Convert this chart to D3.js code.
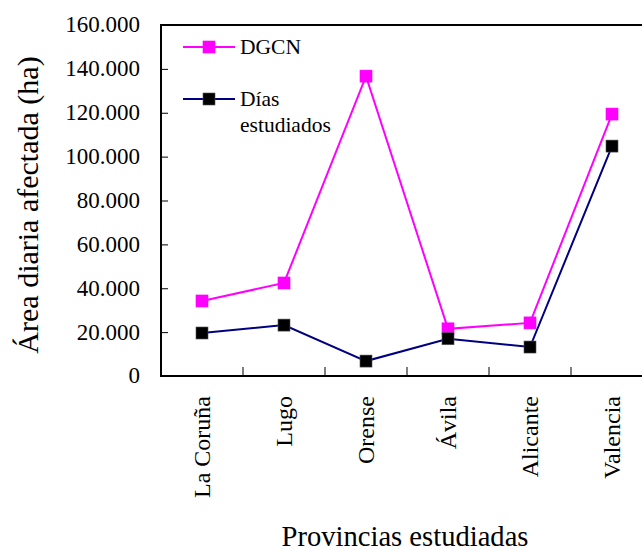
<!DOCTYPE html>
<html>
<head>
<meta charset="utf-8">
<script src="https://cdn.jsdelivr.net/npm/d3@7"></script>
<style>
  body { margin: 0; background: #fff; }
  svg { display: block; font-family: "Liberation Serif", "Times New Roman", serif; }
</style>
</head>
<body>
<div id="chart"></div>
<script>
// datos
const provincias = ['La Coruña', 'Lugo', 'Orense', 'Ávila', 'Alicante', 'Valencia'];
const dgcn = [34.2, 42.4, 136.7, 21.5, 24.2, 119.4];
const diasEstudiados = [19.6, 23.2, 6.8, 17.0, 13.2, 104.8];
const yTicks = [0, 20, 40, 60, 80, 100, 120, 140, 160];

const FONT = '"Liberation Serif", "Times New Roman", serif';
const W = 642, H = 550;
const margin = { top: 25, left: 161 };
const plotW = 492, plotH = 351;

const svg = d3.select('#chart').append('svg').attr('width', W).attr('height', H);
const g = svg.append('g').attr('transform', 'translate(' + margin.left + ',' + margin.top + ')');

const x = d3.scaleBand().domain(provincias).range([0, plotW]);
const y = d3.scaleLinear().domain([0, 160]).range([plotH, 0]);

// formato con punto de miles: 20.000
const fmt = function (d) { return d === 0 ? '0' : d + '.000'; };

// eje Y (marcas hacia dentro)
const yAxis = g.append('g').call(d3.axisLeft(y).tickValues(yTicks).tickSize(-7).tickPadding(21).tickFormat(fmt));
yAxis.attr('font-family', FONT).attr('font-size', 23);
yAxis.select('.domain').remove();
yAxis.selectAll('line').attr('stroke', '#000').attr('stroke-width', 1);
yAxis.selectAll('text')
  .style('font-family', FONT).style('font-size', '23px')
  .attr('fill', '#000').attr('dy', '0.3em');

// eje X: marcas entre categorías, hacia dentro
const xTickPos = d3.range(1, provincias.length).map(function (i) { return i * x.bandwidth(); });
g.selectAll('.xtick').data(xTickPos).enter().append('line')
  .attr('x1', function (d) { return d; }).attr('x2', function (d) { return d; })
  .attr('y1', plotH).attr('y2', plotH - 9)
  .attr('stroke', '#000').attr('stroke-width', 1);

g.selectAll('.xlabel').data(provincias).enter().append('text')
  .attr('transform', function (d) {
    return 'translate(' + (x(d) + x.bandwidth() / 2 + 8) + ',' + (plotH + 20) + ') rotate(-90)';
  })
  .attr('text-anchor', 'end')
  .style('font-size', '24px')
  .text(function (d) { return d; });

// marco: izquierda, abajo, arriba
g.append('path')
  .attr('d', 'M' + plotW + ',0H0V' + plotH + 'H' + plotW)
  .attr('fill', 'none').attr('stroke', '#000').attr('stroke-width', 2);

// series
const series = [
  { name: 'DGCN', values: dgcn, line: '#ff00ff', fill: '#ff00ff', edge: '#ff00ff' },
  { name: 'Días estudiados', values: diasEstudiados, line: '#000080', fill: '#000', edge: '#555' }
];

const line = d3.line()
  .x(function (d, i) { return x(provincias[i]) + x.bandwidth() / 2; })
  .y(function (d) { return y(d); });

const ms = 12;
series.forEach(function (s) {
  g.append('path').datum(s.values)
    .attr('d', line).attr('fill', 'none')
    .attr('stroke', s.line).attr('stroke-width', 2);
  g.selectAll(null).data(s.values).enter().append('rect')
    .attr('x', function (d, i) { return x(provincias[i]) + x.bandwidth() / 2 - ms / 2; })
    .attr('y', function (d) { return y(d) - ms / 2; })
    .attr('width', ms).attr('height', ms)
    .attr('fill', s.fill).attr('stroke', s.edge).attr('stroke-width', 0.6);
});

// leyenda
const legend = svg.append('g').attr('transform', 'translate(183,47)');
const items = legend.selectAll('g').data(series).enter().append('g')
  .attr('transform', function (d, i) { return 'translate(0,' + i * 52 + ')'; });
items.append('line').attr('x1', 0).attr('x2', 52).attr('y1', 0).attr('y2', 0)
  .attr('stroke', function (d) { return d.line; }).attr('stroke-width', 2);
items.append('rect').attr('x', 26 - ms / 2).attr('y', -ms / 2).attr('width', ms).attr('height', ms)
  .attr('fill', function (d) { return d.fill; })
  .attr('stroke', function (d) { return d.edge; }).attr('stroke-width', 0.6);
const lt = items.append('text').attr('x', 57).attr('y', 7).style('font-size', '21.5px');
lt.each(function (d) {
  const words = d.name === 'Días estudiados' ? ['Días', 'estudiados'] : [d.name];
  const t = d3.select(this);
  words.forEach(function (w, i) {
    t.append('tspan').attr('x', 57).attr('dy', i === 0 ? 0 : 26).text(w);
  });
});

// títulos de ejes
svg.append('text')
  .attr('transform', 'translate(38,205) rotate(-90)')
  .attr('text-anchor', 'middle').style('font-size', '30px')
  .text('Área diaria afectada (ha)');

svg.append('text')
  .attr('x', 405).attr('y', 546)
  .attr('text-anchor', 'middle').style('font-size', '28.6px')
  .text('Provincias estudiadas');
</script>
</body>
</html>
